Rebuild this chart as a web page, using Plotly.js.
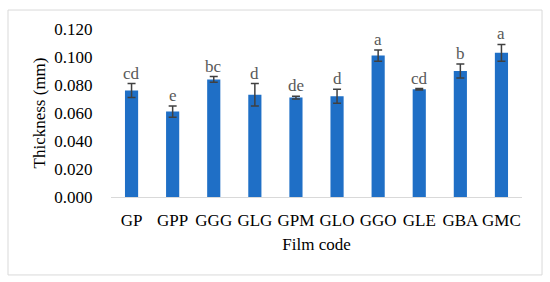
<!DOCTYPE html>
<html lang="en">
<head>
    <meta charset="UTF-8">
    <title>Film thickness</title>
    <script src="https://cdn.plot.ly/plotly-3.0.1.min.js" charset="utf-8"></script>
    <style>
        body { margin: 0; background: #fff; }
        #chart { width: 550px; height: 282px; }
    </style>
</head>
<body>
<div id="chart"></div>
<script>
// Film codes and mean thickness (mm) with standard deviations
const filmCodes = ['GP', 'GPP', 'GGG', 'GLG', 'GPM', 'GLO', 'GGO', 'GLE', 'GBA', 'GMC'];
const thickness = [0.076, 0.061, 0.084, 0.073, 0.071, 0.072, 0.101, 0.077, 0.090, 0.103];
const thicknessSd = [0.005, 0.004, 0.002, 0.008, 0.001, 0.005, 0.004, 0.0005, 0.005, 0.006];
const groupLetters = ['cd', 'e', 'bc', 'd', 'de', 'd', 'a', 'cd', 'b', 'a'];
const yTicks = [0, 0.02, 0.04, 0.06, 0.08, 0.1, 0.12];

const serif = 'Liberation Serif, Times New Roman, serif';

const data = [{
    type: 'bar',
    x: filmCodes,
    y: thickness,
    marker: { color: '#1f6fc6' },
    error_y: {
        type: 'data',
        array: thicknessSd,
        visible: true,
        color: '#404040',
        thickness: 1.5,
        width: 4
    },
    hoverinfo: 'x+y'
}];

// Significance letters above each error bar
const annotations = filmCodes.map((code, i) => ({
    x: code,
    y: thickness[i] + thicknessSd[i],
    text: groupLetters[i],
    showarrow: false,
    yanchor: 'bottom',
    yshift: -1,
    font: { family: serif, size: 17, color: '#595959' }
}));

const layout = {
    width: 550,
    height: 282,
    margin: { l: 111, r: 28, t: 29, b: 85 },
    paper_bgcolor: '#ffffff',
    plot_bgcolor: '#ffffff',
    showlegend: false,
    bargap: 0.68,
    font: { family: serif, size: 17, color: '#000000' },
    xaxis: {
        type: 'category',
        automargin: false,
        showline: true,
        linecolor: '#d9d9d9',
        linewidth: 1,
        showgrid: false,
        ticks: 'outside',
        ticklen: 8,
        tickcolor: 'rgba(0,0,0,0)',
        tickfont: { family: serif, size: 17, color: '#000000' },
        title: { text: 'Film code', font: { family: serif, size: 17, color: '#000000' }, standoff: 8 }
    },
    yaxis: {
        automargin: false,
        range: [0, 0.12],
        tickvals: yTicks,
        tickformat: '.3f',
        showgrid: false,
        zeroline: false,
        showline: false,
        ticks: 'outside',
        ticklen: 14,
        tickcolor: 'rgba(0,0,0,0)',
        tickfont: { family: serif, size: 17, color: '#000000' },
        title: { text: 'Thickness (mm)', font: { family: serif, size: 17, color: '#000000' }, standoff: 4 }
    },
    annotations: annotations,
    shapes: [{
        type: 'rect',
        xref: 'paper', yref: 'paper',
        x0: -0.2506, x1: 1.0487, y0: -0.464, y1: 1.113,
        line: { color: '#d9d9d9', width: 1 },
        fillcolor: 'rgba(0,0,0,0)',
        layer: 'below'
    }]
};

Plotly.newPlot('chart', data, layout, { displayModeBar: false, staticPlot: true });
</script>
</body>
</html>
